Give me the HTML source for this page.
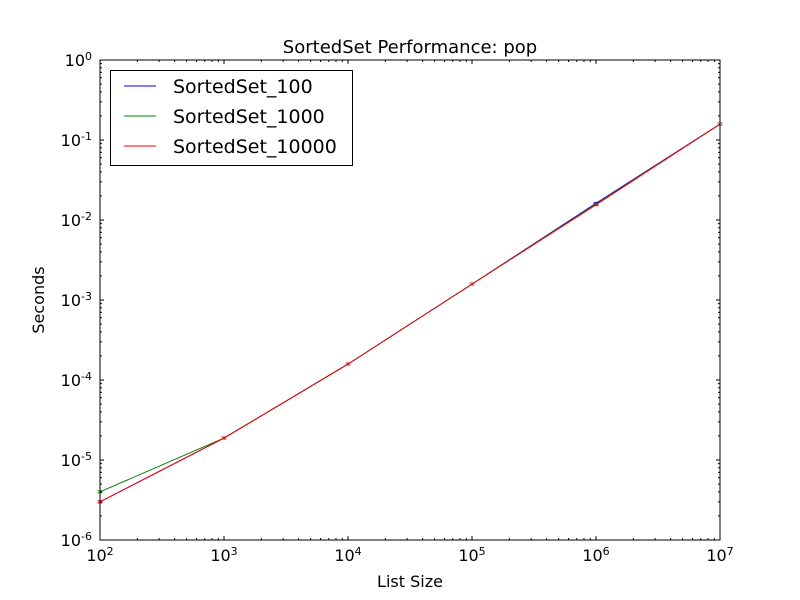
<!DOCTYPE html>
<html><head><meta charset="utf-8"><style>
html,body{margin:0;padding:0;background:#fff;}
svg{display:block;font-family:"DejaVu Sans","Liberation Sans",sans-serif;}
</style></head><body>
<svg id="chart" width="800" height="600" xmlns="http://www.w3.org/2000/svg"></svg>
<script>
const xValues = [100, 1000, 10000, 100000, 1000000, 10000000];
const seriesNames = ["SortedSet_100", "SortedSet_1000", "SortedSet_10000"];
const seriesColors = ["#0000ff", "#008000", "#ff0000"];
const s100 = [3.0e-6, 1.88e-5, 1.58e-4, 1.58e-3, 1.62e-2, 0.158];
const s1000 = [4.0e-6, 1.88e-5, 1.58e-4, 1.58e-3, 1.58e-2, 0.158];
const s10000 = [3.0e-6, 1.88e-5, 1.58e-4, 1.58e-3, 1.55e-2, 0.158];
const xTickExps = [2, 3, 4, 5, 6, 7];
const yTickExps = [-6, -5, -4, -3, -2, -1, 0];

const NS = "http://www.w3.org/2000/svg";
const svg = document.getElementById('chart');
const L = 100, R = 720, T = 60, B = 540;
const xMin = 2, xMax = 7, yMin = -6, yMax = 0;
function xs(v){ return L + (Math.log10(v) - xMin) / (xMax - xMin) * (R - L); }
function ys(v){ return B - (Math.log10(v) - yMin) / (yMax - yMin) * (B - T); }
function mk(tag, attrs, parent){
  const e = document.createElementNS(NS, tag);
  for (const k in attrs) e.setAttribute(k, attrs[k]);
  (parent || svg).appendChild(e);
  return e;
}

const allSeries = [s100, s1000, s10000];
allSeries.forEach((s, i) => {
  const g = mk('g', {});
  
  
  const pts = s.map((v, j) => xs(xValues[j]).toFixed(2) + ',' + ys(v).toFixed(2)).join(' ');
  const pl = mk('polyline', {points: pts, fill: 'none', stroke: seriesColors[i], 'stroke-width': 1}, g);
  
  
  s.forEach((v, j) => {
    const x = xs(xValues[j]), y = ys(v);
    const eb = mk('path', {d: `M${x-2.5},${y-1}H${x+2.5}M${x-2.5},${y+1}H${x+2.5}`, stroke: seriesColors[i], 'stroke-width': 0.8, fill: 'none'}, g);
    
    
  });
});

const frame = mk('rect', {x: L, y: T, width: R - L, height: B - T, fill: 'none', stroke: '#000', 'stroke-width': 1});



const tg = mk('g', {stroke: '#000', 'stroke-width': 1});


let d = '';
for (let e = xMin; e <= xMax; e++) {
  const x = xs(Math.pow(10, e));
  d += `M${x},${B}v-4M${x},${T}v4`;
  if (e < xMax) for (let m = 2; m < 10; m++) { const xm = xs(m * Math.pow(10, e)); d += `M${xm},${B}v-2M${xm},${T}v2`; }
}
for (let e = yMin; e <= yMax; e++) {
  const y = ys(Math.pow(10, e));
  d += `M${L},${y}h4M${R},${y}h-4`;
  if (e < yMax) for (let m = 2; m < 10; m++) { const ym = ys(m * Math.pow(10, e)); d += `M${L},${ym}h2M${R},${ym}h-2`; }
}
mk('path', {d: d, fill: 'none'}, tg);

xTickExps.forEach(e => {
  const t = mk('text', {x: xs(Math.pow(10, e)), y: B + 21, 'font-size': 16, 'text-anchor': 'middle', fill: '#000'});
  
  
  t.innerHTML = `10<tspan dy="-6" font-size="11">${e}</tspan>`;
});
yTickExps.forEach(e => {
  const t = mk('text', {x: L - 8, y: ys(Math.pow(10, e)) + 6, 'font-size': 16, 'text-anchor': 'end', fill: '#000'});
  
  
  t.innerHTML = `10<tspan dy="-6" font-size="11">${e}</tspan>`;
});

let t = mk('text', {x: 410, y: 53, 'font-size': 18, 'text-anchor': 'middle'});


t.textContent = 'SortedSet Performance: pop';
t = mk('text', {x: 410, y: 587, 'font-size': 16, 'text-anchor': 'middle'});


t.textContent = 'List Size';
t = mk('text', {x: 44, y: 300, 'font-size': 16, 'text-anchor': 'middle', transform: 'rotate(-90 44 300)'});


t.textContent = 'Seconds';

const lg = mk('g', {});


mk('rect', {x: 110.5, y: 70.5, width: 242, height: 95, fill: '#fff', stroke: '#000', 'stroke-width': 1}, lg);
seriesNames.forEach((n, i) => {
  const y = 86 + i * 30;
  const eg = mk('g', {}, lg);
  
  
  mk('line', {x1: 124, x2: 156, y1: y, y2: y, stroke: seriesColors[i], 'stroke-width': 1}, eg);
  const tx = mk('text', {x: 173, y: y + 7, 'font-size': 19}, eg);
  tx.textContent = n;
});
</script>
</body></html>
